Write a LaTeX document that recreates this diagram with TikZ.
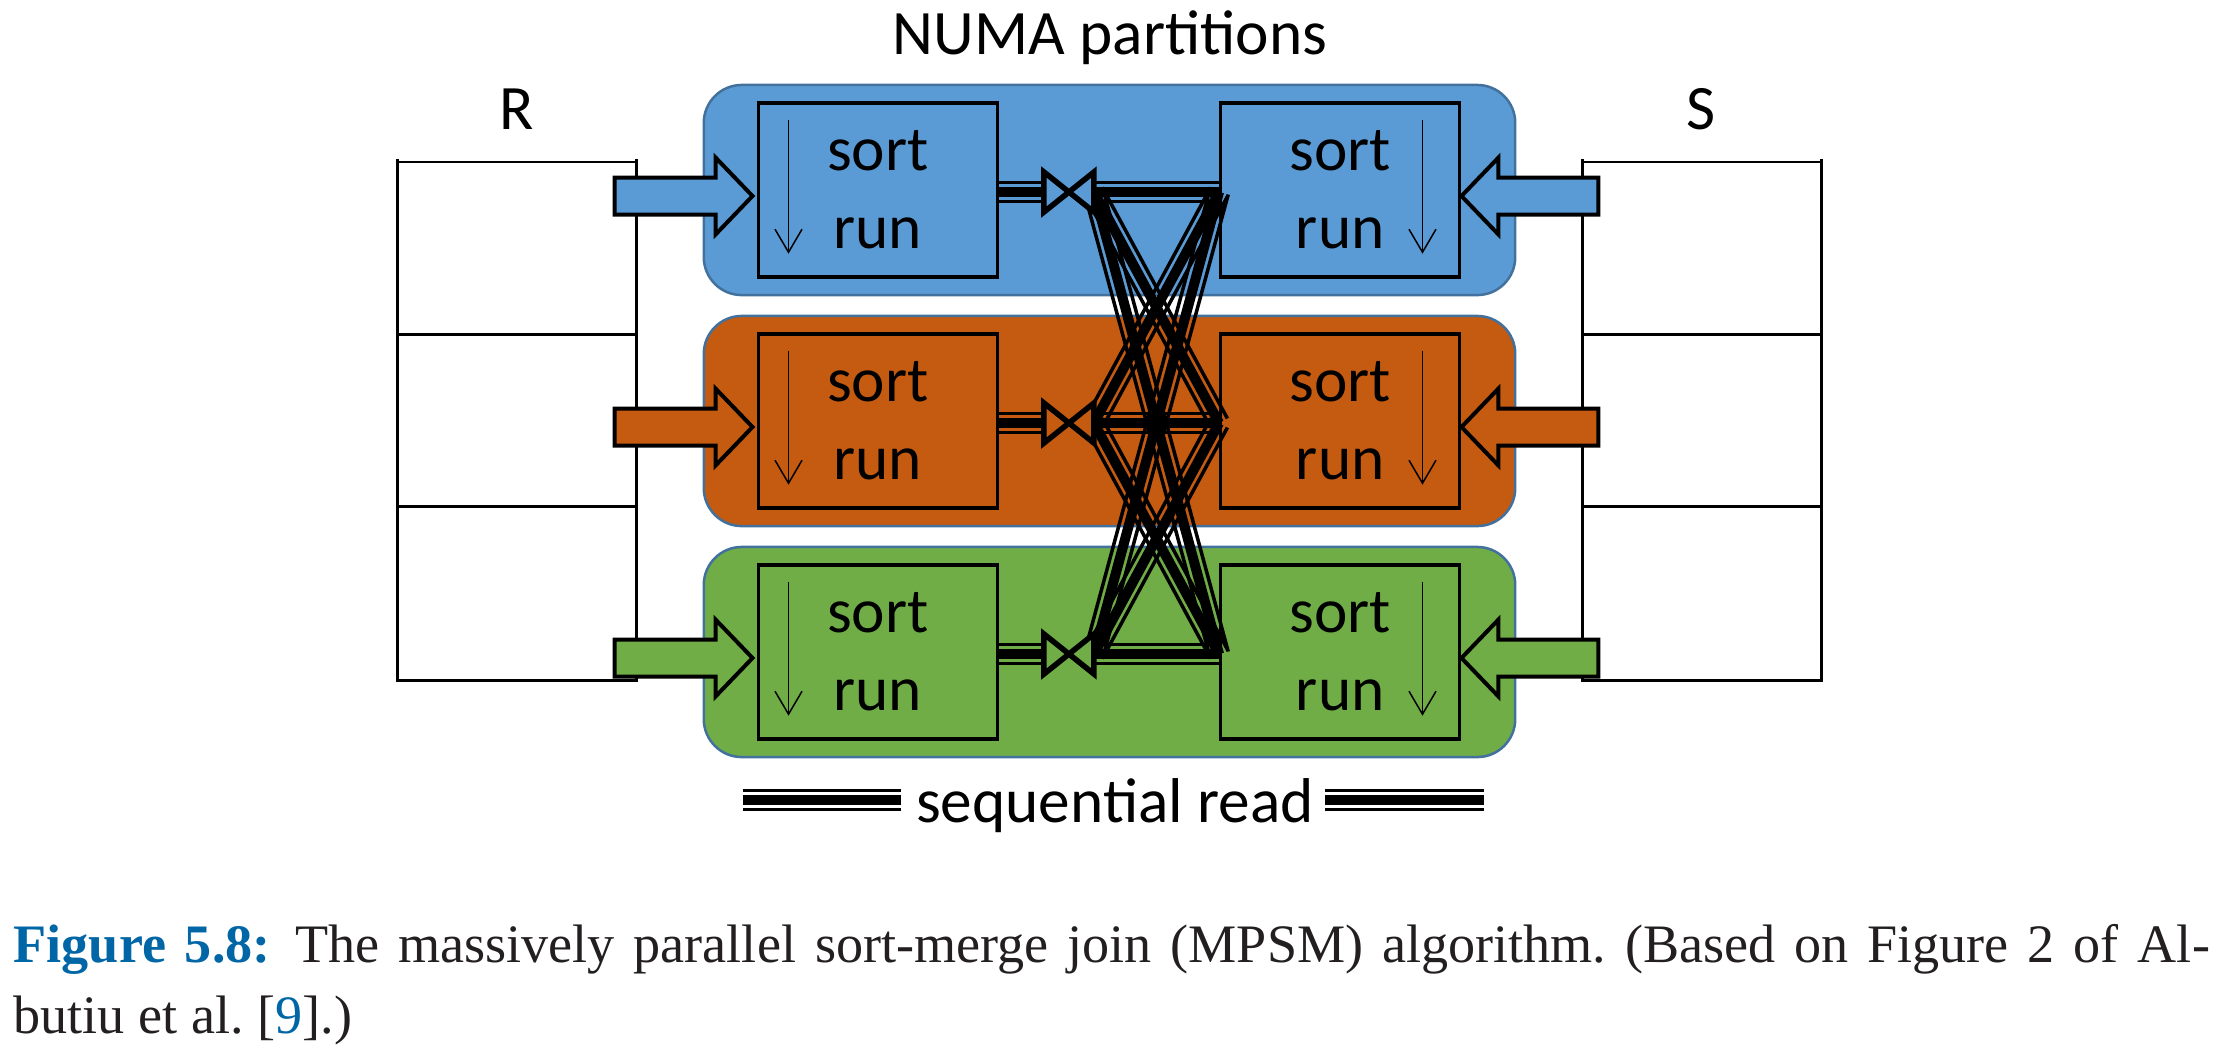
\documentclass[tikz,border=0pt]{standalone}
\usepackage{fontspec}
\setmainfont{Liberation Serif}
\newfontfamily\diagfont{Carlito}
\usetikzlibrary{positioning,calc,arrows.meta}
\frenchspacing

\definecolor{numablue}{HTML}{5B9BD5}
\definecolor{numaorange}{HTML}{C55A11}
\definecolor{numagreen}{HTML}{70AD47}
\definecolor{numaedge}{HTML}{41719C}
\definecolor{capblue}{HTML}{0066A6}
\definecolor{captext}{HTML}{231F20}

\newcommand{\triplerun}[2]{%
  \draw[line width=0.1cm] (#1) -- (#2);
  \draw[line width=0.035cm] ($(#1)!0.095cm!90:(#2)$) -- ($(#2)!0.095cm!-90:(#1)$);
  \draw[line width=0.035cm] ($(#1)!0.095cm!-90:(#2)$) -- ($(#2)!0.095cm!90:(#1)$);
}

\begin{document}
\begin{tikzpicture}[x=0.01cm, y=-0.01cm,
  partbox/.style={draw=numaedge, line width=0.025cm, rounded corners=0.38cm,
    minimum width=8.11cm, minimum height=2.1cm, inner sep=0pt},
  sortbox/.style={draw, line width=0.033cm, minimum width=2.39cm, minimum height=1.74cm,
    inner sep=0pt, align=center, font=\diagfont\fontsize{18}{22.2}\selectfont},
  blockarrow/.style={draw, line width=0.04cm, line join=miter},
  sortarrow/.style={-{Straight Barb[length=0.23cm, width=0.27cm]}, line width=0.015cm},
  tableline/.style={line width=0.03cm},
  bowtie/.style={draw, line width=0.055cm},
  lbl/.style={font=\diagfont\fontsize{18}{22}\selectfont, inner sep=0pt}]

  \useasboundingbox (0,0) rectangle (2235,1056);

  \foreach \c [count=\i] in {numablue,numaorange,numagreen} {
    \pgfmathsetmacro{\yy}{190+231*(\i-1)}
    \node[partbox, fill=\c] (part\i) at (1109.5,\yy) {};
    \node[sortbox, anchor=west] (sl\i) at ($(part\i.west)+(54,0)$) {sort\\run};
    \node[sortbox, anchor=east] (sr\i) at ($(part\i.east)+(-55,0)$) {sort\\run};
    \draw[sortarrow] ($(sl\i.north west)+(32,19)$) -- ($(sl\i.south west)+(32,-25)$);
    \draw[sortarrow] ($(sr\i.north east)+(-39,19)$) -- ($(sr\i.south east)+(-39,-25)$);
    \coordinate (sle\i) at ($(sl\i.east)+(0,2)$);
    \coordinate (jl\i) at ($(sl\i.east)+(45,2)$);
    \coordinate (jr\i) at ($(jl\i)+(50,0)$);
    \coordinate (srw\i) at ($(sr\i.west)+(0,2)$);
  }

  \foreach \x in {397,1582} {
    \draw[tableline] (\x,159) -- (\x,680) -- (\x+239,680) -- (\x+239,159);
    \draw[line width=0.015cm] (\x,162) -- (\x+239,162);
    \draw[tableline] (\x,334) -- (\x+239,334);
    \draw[tableline] (\x,506) -- (\x+239,506);
  }

  \foreach \c [count=\i] in {numablue,numaorange,numagreen} {
    \draw[blockarrow, fill=\c] ($(sl\i.west)+(-4,6)$) -- ++(-37,-38.5) -- ++(0,20)
      -- ++(-101,0) -- ++(0,37) -- ++(101,0) -- ++(0,20) -- cycle;
    \draw[blockarrow, fill=\c] ($(sr\i.east)+(0,6)$) -- ++(37,-38.5) -- ++(0,20)
      -- ++(100,0) -- ++(0,37) -- ++(-100,0) -- ++(0,20) -- cycle;
    \triplerun{sle\i}{jl\i}
    \foreach \j in {1,2,3} {
      \triplerun{jr\i}{srw\j}
    }
  }

  \foreach \c [count=\i] in {numablue,numaorange,numagreen} {
    \draw[bowtie, fill=\c] ($(jl\i)+(0,-20)$) -- ($(jr\i)+(0,20)$)
      -- ($(jr\i)+(0,-20)$) -- ($(jl\i)+(0,20)$) -- cycle;
  }

  \node[lbl, anchor=base] (numa) at (1110,54) {NUMA partitions};
  \node[lbl, anchor=base] (rname) at (516.5,129) {R};
  \node[lbl, anchor=base] (sname) at (1701.5,129) {S};

  \node[lbl, anchor=base] (seq) at (1115,822) {sequential read};
  \coordinate (sqa) at (743,800);
  \coordinate (sqb) at (901,800);
  \coordinate (sqc) at (1325,800);
  \coordinate (sqd) at (1484,800);
  \triplerun{sqa}{sqb}
  \triplerun{sqc}{sqd}

  \node[anchor=base west, inner sep=0pt, text=captext, font=\fontsize{15.4}{20}\selectfont]
    (cap1) at (13,962) {\makebox[21.95cm][s]{\textcolor{capblue}{\textbf{Figure 5.8:}}\hspace{0.45em}The
    massively parallel sort-merge join (MPSM) algorithm. (Based on Figure 2 of Al-}};
  \node[anchor=base west, inner sep=0pt, text=captext, font=\fontsize{15.4}{20}\selectfont]
    (cap2) at (13,1033) {butiu et al. [\textcolor{capblue}{9}].)};
\end{tikzpicture}
\end{document}
